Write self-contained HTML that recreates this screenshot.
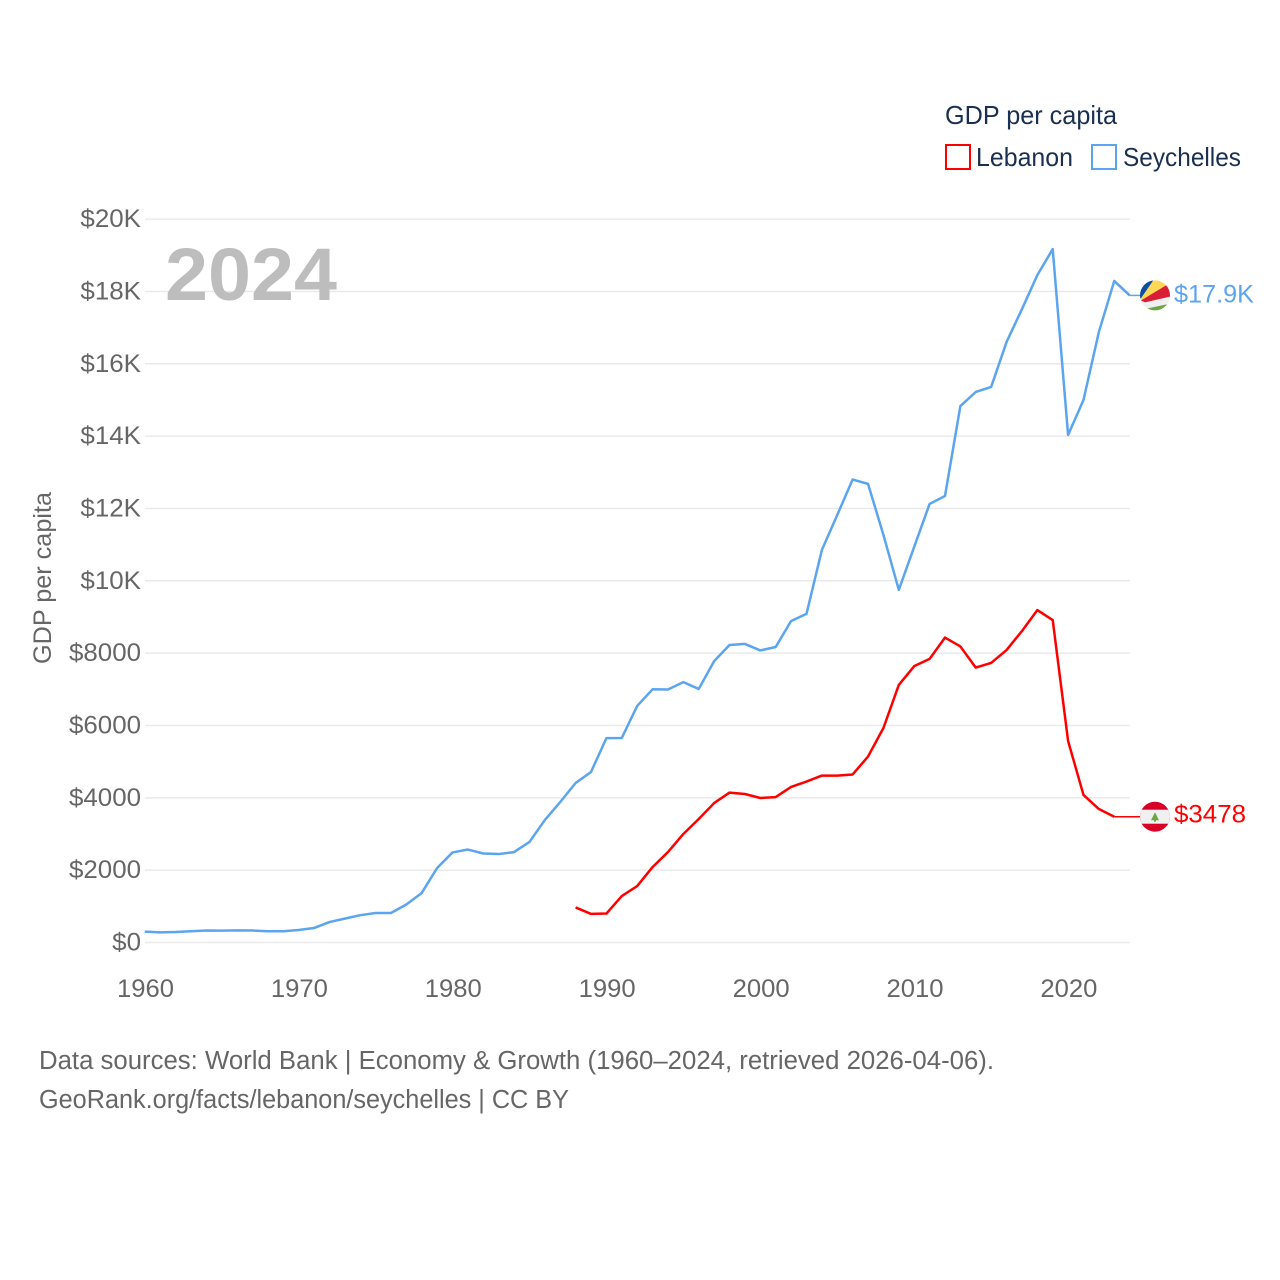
<!DOCTYPE html>
<html lang="en">
<head>
<meta charset="utf-8">
<title>GDP per capita: Lebanon and Seychelles</title>
<style>
html,body{margin:0;padding:0;background:#fff;}
svg{display:block;}
text{font-family:"Liberation Sans",sans-serif;}
</style>
</head>
<body>
<svg id="chart" width="1280" height="1280" viewBox="0 0 1280 1280" xmlns="http://www.w3.org/2000/svg">
  <defs>
    <clipPath id="flag-clip"><circle cx="0" cy="0" r="15"></circle></clipPath>
  </defs>
  <rect x="0" y="0" width="1280" height="1280" fill="#ffffff"></rect>
  <g id="grid"></g>
  <g id="y-ticks"></g>
  <g id="x-ticks"></g>
  <text x="165" y="300" font-size="74" font-weight="700" fill="#bdbdbd" textLength="172" lengthAdjust="spacingAndGlyphs">2024</text>
  <text transform="translate(51,664) rotate(-90)" font-size="25" fill="#666666" textLength="172" lengthAdjust="spacingAndGlyphs">GDP per capita</text>
  <g id="series"></g>

  <g id="flag-seychelles">
    <g clip-path="url(#flag-clip)">
      <rect x="-16" y="-16" width="32" height="32" fill="#f0f0f0"></rect>
      <polygon points="-16,-16 -1,-16 -14,3 -16,3" fill="#0a4ea2"></polygon>
      <polygon points="-14,3 -1,-16 16,-16 16,-13 -14,5" fill="#fcd856"></polygon>
      <polygon points="-14,5 16,-13 16,1 -10,7" fill="#d81e34"></polygon>
      <polygon points="-12,14 14,8.5 14,16 -12,16" fill="#6da544"></polygon>
    </g>
  </g>
  <g id="flag-lebanon">
    <g clip-path="url(#flag-clip)">
      <rect x="-16" y="-16" width="32" height="32" fill="#d80027"></rect>
      <rect x="-16" y="-7" width="32" height="14" fill="#f0f0f0"></rect>
      <polygon points="0,-4.5 4,3.5 -4,3.5" fill="#6da544"></polygon>
      <rect x="-1" y="3" width="2" height="2" fill="#6da544"></rect>
    </g>
  </g>
  <text id="label-seychelles" x="1174" font-size="25" fill="#5ba5ee" textLength="80" lengthAdjust="spacingAndGlyphs"></text>
  <text id="label-lebanon" x="1174" font-size="25" fill="#ff0000" textLength="72" lengthAdjust="spacingAndGlyphs"></text>

  <g>
    <text x="945" y="124" font-size="26" fill="#1a3050" textLength="172" lengthAdjust="spacingAndGlyphs">GDP per capita</text>
    <g>
      <rect x="946" y="145" width="24" height="24" fill="none" stroke="#ff0000" stroke-width="2"></rect>
      <text x="976" y="166" font-size="26" fill="#1a3050" textLength="97" lengthAdjust="spacingAndGlyphs">Lebanon</text>
    </g>
    <g>
      <rect x="1092" y="145" width="24" height="24" fill="none" stroke="#5ba5ee" stroke-width="2"></rect>
      <text x="1123" y="166" font-size="26" fill="#1a3050" textLength="118" lengthAdjust="spacingAndGlyphs">Seychelles</text>
    </g>
  </g>

  <text x="39" y="1069" font-size="25.5" fill="#666666" textLength="955" lengthAdjust="spacingAndGlyphs">Data sources: World Bank | Economy &amp; Growth (1960–2024, retrieved 2026-04-06).</text>
  <text x="39" y="1108" font-size="25.5" fill="#666666" textLength="530" lengthAdjust="spacingAndGlyphs">GeoRank.org/facts/lebanon/seychelles | CC BY</text>
</svg>
<script>
const yTickValues = [0, 2000, 4000, 6000, 8000, 10000, 12000, 14000, 16000, 18000, 20000];
const yTickLabels = ["$0", "$2000", "$4000", "$6000", "$8000", "$10K", "$12K", "$14K", "$16K", "$18K", "$20K"];
const xTickYears = [1960, 1970, 1980, 1990, 2000, 2010, 2020];
const seychellesStartYear = 1960;
const seychellesValues = [300, 280, 290, 310, 330, 328, 335, 330, 312, 312, 345, 400, 565, 660, 755, 815, 815, 1050, 1370, 2060, 2490, 2570, 2460, 2445, 2500, 2780, 3385, 3885, 4410, 4715, 5650, 5655, 6540, 7000, 6995, 7200, 7010, 7780, 8225, 8255, 8075, 8170, 8890, 9085, 10850, 11820, 12800, 12680, 11270, 9750, 10940, 12125, 12345, 14830, 15220, 15360, 16600, 17510, 18450, 19170, 14030, 15000, 16880, 18290, 17890];
const lebanonStartYear = 1988;
const lebanonValues = [970, 790, 800, 1285, 1560, 2085, 2500, 3000, 3415, 3855, 4145, 4105, 3995, 4020, 4300, 4450, 4615, 4615, 4645, 5140, 5930, 7120, 7640, 7840, 8430, 8185, 7600, 7730, 8085, 8610, 9190, 8915, 5570, 4080, 3690, 3478];
const seychellesLabel = "$17.9K";
const lebanonLabel = "$3478";

const SVG_NS = "http://www.w3.org/2000/svg";
function xScale(year) { return 144.7 + (year - 1960) * 15.39; }
function yScale(value) { return 942.5 - value * 0.03617; }
function linePoints(startYear, values) {
  return values.map(function (v, i) {
    return xScale(startYear + i).toFixed(2) + "," + yScale(v).toFixed(2);
  }).join(" ");
}

const gridGroup = document.getElementById("grid");
const yTickGroup = document.getElementById("y-ticks");
yTickValues.forEach(function (value, i) {
  const gridLine = document.createElementNS(SVG_NS, "line");
  
  
  gridLine.setAttribute("x1", 145);
  gridLine.setAttribute("x2", 1130);
  gridLine.setAttribute("y1", yScale(value));
  gridLine.setAttribute("y2", yScale(value));
  gridLine.setAttribute("stroke", "#e9e9e9");
  gridLine.setAttribute("stroke-width", "1.5");
  gridGroup.appendChild(gridLine);

  const label = yTickLabels[i];
  const tickText = document.createElementNS(SVG_NS, "text");
  
  
  tickText.setAttribute("x", 141);
  tickText.setAttribute("y", yScale(value) + 8);
  tickText.setAttribute("text-anchor", "end");
  tickText.setAttribute("font-size", "25");
  tickText.setAttribute("fill", "#666666");
  tickText.setAttribute("textLength", label.length * 14.4 + (label.endsWith("K") ? 3 : 0));
  tickText.setAttribute("lengthAdjust", "spacingAndGlyphs");
  tickText.textContent = label;
  yTickGroup.appendChild(tickText);
});

const xTickGroup = document.getElementById("x-ticks");
xTickYears.forEach(function (year) {
  const tickText = document.createElementNS(SVG_NS, "text");
  
  
  tickText.setAttribute("x", xScale(year) + 0.8);
  tickText.setAttribute("y", 997);
  tickText.setAttribute("text-anchor", "middle");
  tickText.setAttribute("font-size", "25");
  tickText.setAttribute("fill", "#666666");
  tickText.setAttribute("textLength", 57);
  tickText.setAttribute("lengthAdjust", "spacingAndGlyphs");
  tickText.textContent = String(year);
  xTickGroup.appendChild(tickText);
});

const seriesGroup = document.getElementById("series");

const seychellesLine = document.createElementNS(SVG_NS, "polyline");


seychellesLine.setAttribute("points", linePoints(seychellesStartYear, seychellesValues));
seychellesLine.setAttribute("fill", "none");
seychellesLine.setAttribute("stroke", "#5ba5ee");
seychellesLine.setAttribute("stroke-width", "2.5");
seychellesLine.setAttribute("stroke-linejoin", "round");
seriesGroup.appendChild(seychellesLine);

const lebanonLine = document.createElementNS(SVG_NS, "polyline");


lebanonLine.setAttribute("points", linePoints(lebanonStartYear, lebanonValues));
lebanonLine.setAttribute("fill", "none");
lebanonLine.setAttribute("stroke", "#ff0000");
lebanonLine.setAttribute("stroke-width", "2.5");
lebanonLine.setAttribute("stroke-linejoin", "round");
seriesGroup.appendChild(lebanonLine);

const seychellesLast = seychellesValues[seychellesValues.length - 1];
const lebanonLast = lebanonValues[lebanonValues.length - 1];

const seychellesLeader = document.createElementNS(SVG_NS, "line");


seychellesLeader.setAttribute("x1", xScale(seychellesStartYear + seychellesValues.length - 1));
seychellesLeader.setAttribute("x2", 1142);
seychellesLeader.setAttribute("y1", yScale(seychellesLast));
seychellesLeader.setAttribute("y2", yScale(seychellesLast));
seychellesLeader.setAttribute("stroke", "#5ba5ee");
seychellesLeader.setAttribute("stroke-width", "1.5");
seriesGroup.appendChild(seychellesLeader);

const lebanonLeader = document.createElementNS(SVG_NS, "line");


lebanonLeader.setAttribute("x1", xScale(lebanonStartYear + lebanonValues.length - 1));
lebanonLeader.setAttribute("x2", 1142);
lebanonLeader.setAttribute("y1", yScale(lebanonLast));
lebanonLeader.setAttribute("y2", yScale(lebanonLast));
lebanonLeader.setAttribute("stroke", "#ff0000");
lebanonLeader.setAttribute("stroke-width", "1.5");
seriesGroup.appendChild(lebanonLeader);

document.getElementById("flag-seychelles").setAttribute("transform", "translate(1155," + yScale(seychellesLast) + ")");
document.getElementById("flag-lebanon").setAttribute("transform", "translate(1155," + yScale(lebanonLast) + ")");

const seychellesValueText = document.getElementById("label-seychelles");
seychellesValueText.setAttribute("y", yScale(seychellesLast) + 7);
seychellesValueText.textContent = seychellesLabel;

const lebanonValueText = document.getElementById("label-lebanon");
lebanonValueText.setAttribute("y", yScale(lebanonLast) + 6);
lebanonValueText.textContent = lebanonLabel;
</script>
</body>
</html>
